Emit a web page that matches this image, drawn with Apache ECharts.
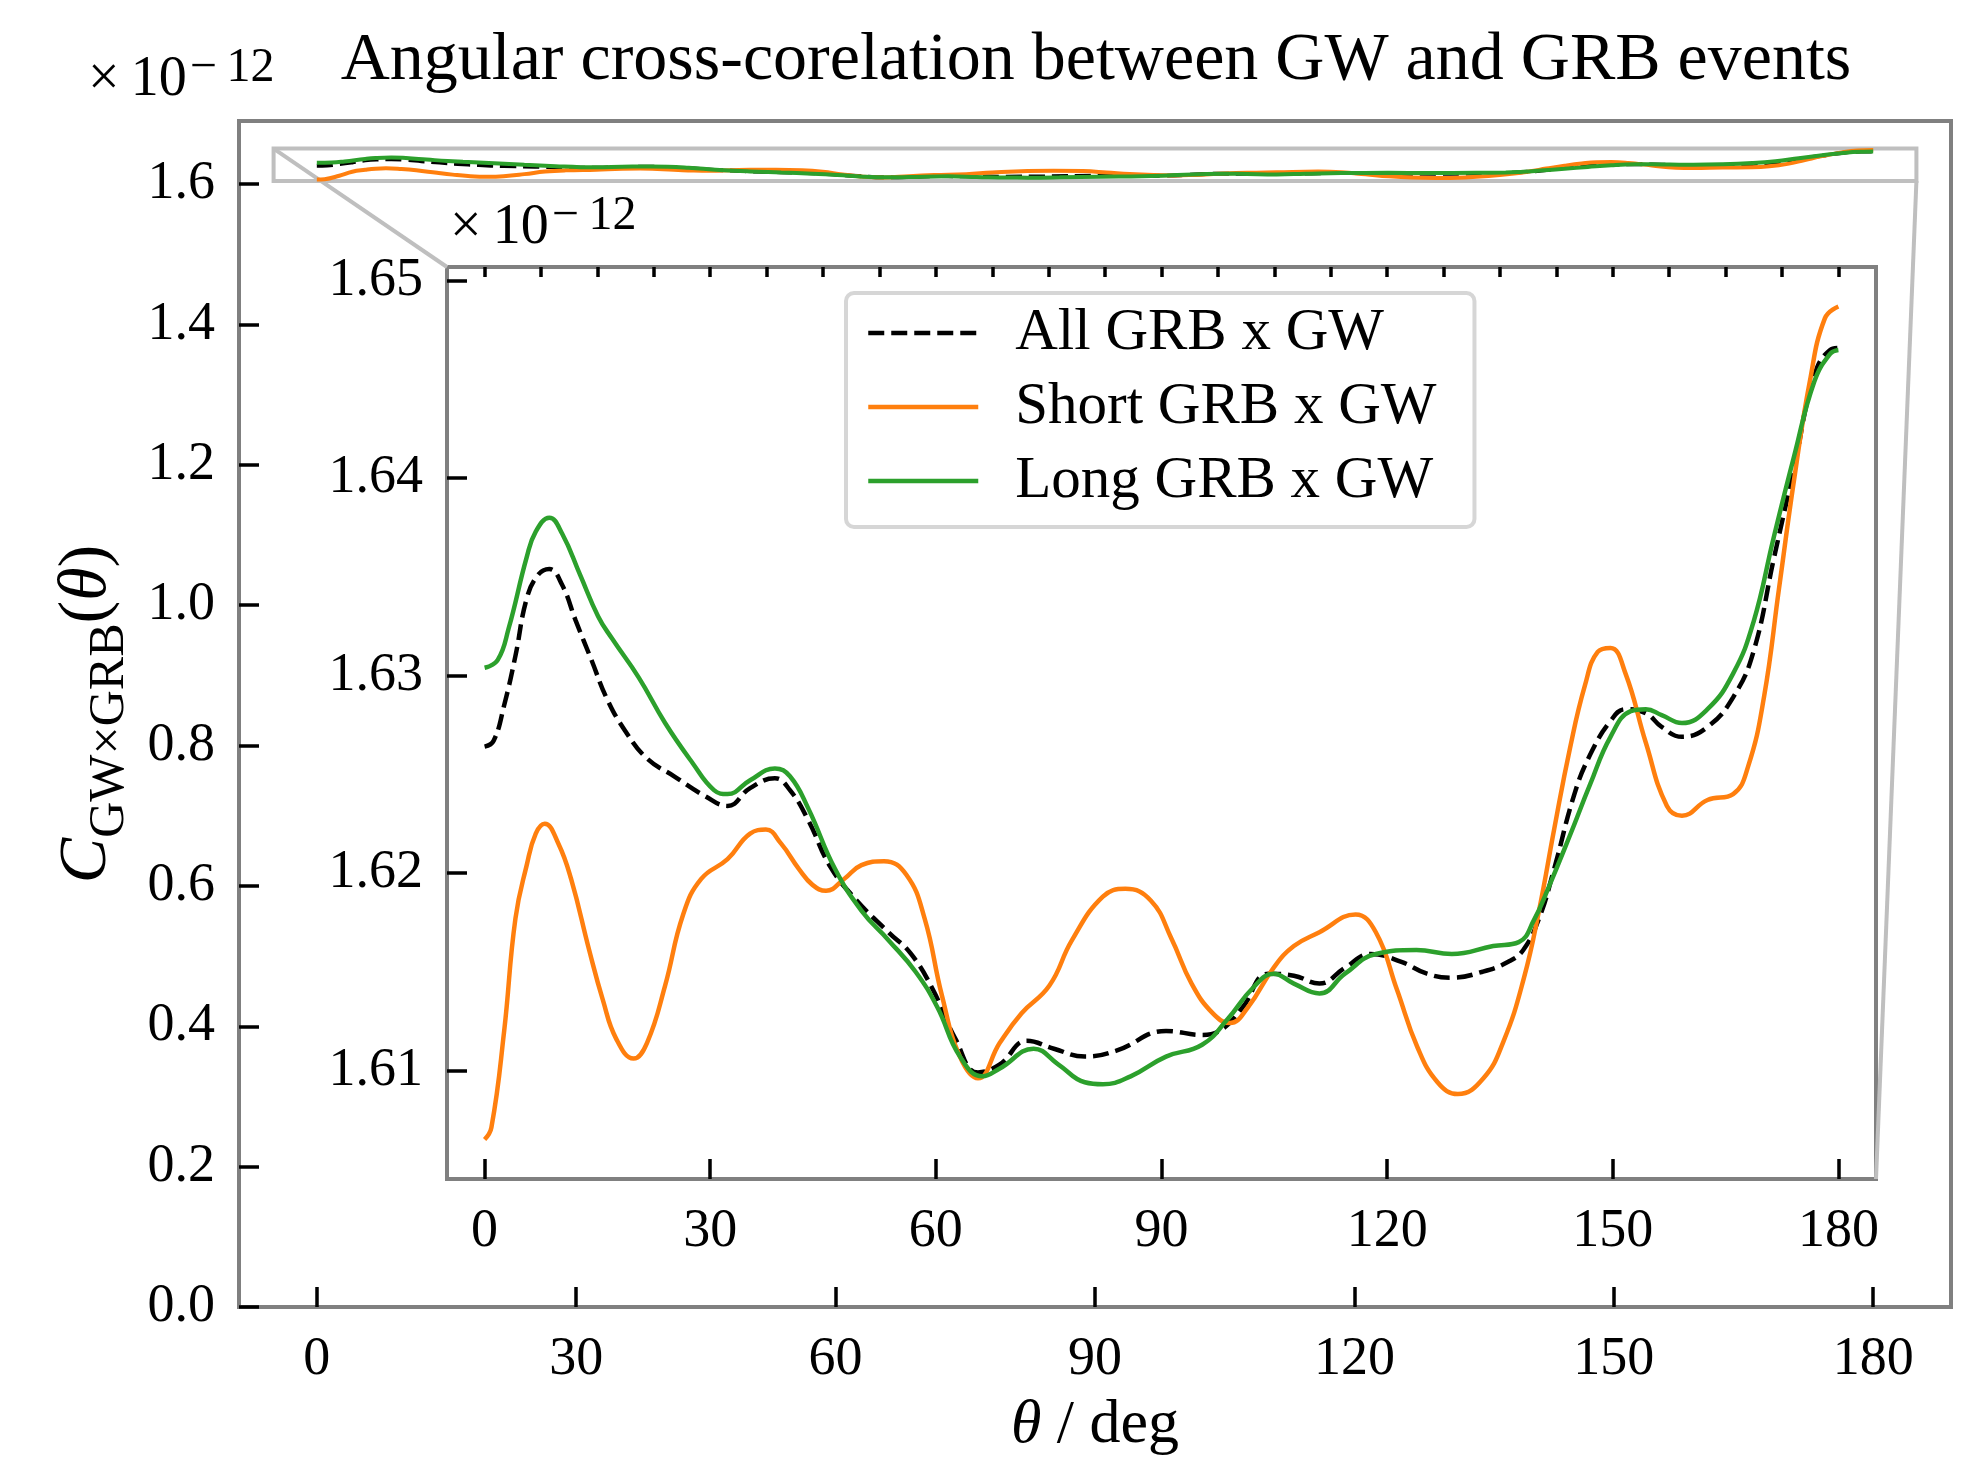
<!DOCTYPE html>
<html>
<head>
<meta charset="utf-8">
<script src="https://cdn.jsdelivr.net/npm/echarts@6/dist/echarts.min.js"></script>
<style>
  html, body { margin: 0; padding: 0; background: #fff; }
  #chart { width: 1965px; height: 1457px; }
</style>
</head>
<body>
<div id="chart"></div>
<script>
// values, in units of 1e-12
const thetaAll = [0, 1.2, 2.6, 4.1, 5.6, 7.1, 8.6, 10.3, 12.1, 14.2, 16.3, 18.7, 21.6, 25.2, 29.3, 32.3, 35.3, 38.6, 40.6, 43, 46, 49.5, 53.7, 56.7, 59.6, 62.6, 65.6, 68.5, 72.1, 75.7, 79.8, 84, 90.6, 95.4, 98.1, 100.8, 104.2, 107.6, 111, 114.4, 117.8, 121.9, 125.3, 128.6, 132.7, 136.1, 138.1, 140.2, 142.2, 144.9, 147, 149.7, 151.7, 154.4, 156.5, 159.2, 162.6, 166, 168.7, 171.4, 174.1, 176.8, 178.9, 180]
const corrAll = [1.6264, 1.6267, 1.6285, 1.6310, 1.6339, 1.6351, 1.6354, 1.6346, 1.6328, 1.6308, 1.6288, 1.6272, 1.6258, 1.6249, 1.6239, 1.6234, 1.6243, 1.6248, 1.6242, 1.6227, 1.6203, 1.6186, 1.6170, 1.6159, 1.6141, 1.6116, 1.6099, 1.6103, 1.6115, 1.6111, 1.6107, 1.6110, 1.6120, 1.6118, 1.6121, 1.6132, 1.6149, 1.6148, 1.6144, 1.6152, 1.6159, 1.6155, 1.6149, 1.6147, 1.6150, 1.6155, 1.6161, 1.6177, 1.6202, 1.6240, 1.6260, 1.6277, 1.6283, 1.6281, 1.6274, 1.6269, 1.6274, 1.6289, 1.6312, 1.6359, 1.6405, 1.6452, 1.6465, 1.6466]

const thetaShort = [0, 0.9, 2.6, 4.1, 5.6, 6.8, 8, 9.8, 11.5, 13.9, 15.7, 17.5, 19.8, 21.6, 24, 26.4, 28.8, 32.3, 35.3, 37.4, 39.4, 41.8, 43.6, 45.4, 47.8, 50.1, 53.1, 56.1, 58.5, 60.8, 63.2, 65.6, 68.5, 71.4, 75.1, 78.1, 82.2, 85.2, 88.6, 91.3, 94, 96.8, 99.1, 101.5, 104.9, 107.6, 111, 115.8, 118.5, 121.3, 124, 126.7, 129.4, 132.8, 135.5, 138.2, 140.2, 142.2, 144.3, 146.3, 148, 149.7, 151.7, 154.4, 157.2, 159.2, 162.6, 166, 168, 170.1, 172.1, 174.1, 176.2, 178.2, 180]
const corrShort = [1.6065, 1.6071, 1.6120, 1.6177, 1.6204, 1.6220, 1.6225, 1.6215, 1.6197, 1.6161, 1.6136, 1.6116, 1.6106, 1.6114, 1.6143, 1.6179, 1.6197, 1.6207, 1.6220, 1.6222, 1.6215, 1.6202, 1.6194, 1.6191, 1.6197, 1.6204, 1.6206, 1.6199, 1.6177, 1.6138, 1.6107, 1.6096, 1.6114, 1.6129, 1.6143, 1.6166, 1.6188, 1.6192, 1.6186, 1.6167, 1.6144, 1.6129, 1.6124, 1.6132, 1.6152, 1.6163, 1.6170, 1.6179, 1.6170, 1.6141, 1.6112, 1.6094, 1.6088, 1.6096, 1.6115, 1.6147, 1.6181, 1.6222, 1.6263, 1.6295, 1.6312, 1.6314, 1.6301, 1.6266, 1.6234, 1.6229, 1.6237, 1.6240, 1.6254, 1.6289, 1.6344, 1.6399, 1.6449, 1.6481, 1.6487]

const thetaLong = [0, 1.75, 3.2, 5.6, 6.8, 8.6, 10.3, 12.7, 15.1, 16.9, 20.5, 24, 27.6, 30.5, 32.3, 35.3, 38.6, 40.6, 43, 46.6, 50.1, 53.7, 57.3, 60.2, 63.2, 66.2, 68.5, 73, 76.3, 79.8, 82.2, 85.9, 90.6, 95.4, 98.8, 102.2, 104.9, 107.6, 111, 114.4, 118.5, 123.9, 128.6, 134.1, 137.5, 139.5, 141.5, 144.3, 147, 149.7, 152.4, 154.4, 156.5, 159.2, 162.6, 166, 168.7, 171.4, 174.1, 176.8, 178.9, 180]
const corrLong = [1.6304, 1.6308, 1.6324, 1.6360, 1.6373, 1.6380, 1.6372, 1.6351, 1.6330, 1.6319, 1.6299, 1.6276, 1.6256, 1.6242, 1.6240, 1.6247, 1.6253, 1.6249, 1.6233, 1.6202, 1.6181, 1.6166, 1.6150, 1.6132, 1.6107, 1.6097, 1.6101, 1.6111, 1.6103, 1.6094, 1.6093, 1.6097, 1.6107, 1.6113, 1.6126, 1.6142, 1.6149, 1.6144, 1.6139, 1.6149, 1.6159, 1.6161, 1.6159, 1.6163, 1.6165, 1.6176, 1.6193, 1.6219, 1.6245, 1.6269, 1.6282, 1.6283, 1.6280, 1.6276, 1.6283, 1.6301, 1.6327, 1.6370, 1.6411, 1.6449, 1.6463, 1.6465]

// ticks
const thetaTicks = [0, 30, 60, 90, 120, 150, 180]
const thetaMinorTicks = [0, 7.5, 15, 22.5, 30, 37.5, 45, 52.5, 60, 67.5, 75, 82.5, 90, 97.5, 105, 112.5, 120, 127.5, 135, 142.5, 150, 157.5, 165, 172.5, 180]
const mainTicks = [0, 0.2, 0.4, 0.6, 0.8, 1.0, 1.2, 1.4, 1.6]
const insetTicks = [1.61, 1.62, 1.63, 1.64, 1.65]

// axis limits
const mainX = [-9, 189]
const mainY = [0, 1.69]
const insetX = [-5, 185]
const insetY = [1.6045, 1.6507]

const FONT = 'Liberation Serif'
const SPINE = '#808080'
const ZOOMBOX = '#bfbfbf'

const lines = [
  { name: 'All GRB x GW', theta: thetaAll, corr: corrAll, color: '#000000', type: [16, 7] },
  { name: 'Short GRB x GW', theta: thetaShort, corr: corrShort, color: '#ff7f0e', type: 'solid' },
  { name: 'Long GRB x GW', theta: thetaLong, corr: corrLong, color: '#2ca02c', type: 'solid' }
]

const chart = echarts.init(document.getElementById('chart'), null, { renderer: 'canvas' })

const tickLabel = { fontFamily: FONT, fontSize: 54, color: '#000' }
const tickStyle = { color: '#000', width: 3.5 }

function xAxisFor(gridIndex, range, extra) {
  return Object.assign({
    type: 'value', gridIndex: gridIndex, min: range[0], max: range[1],
    axisLine: { show: false, onZero: false },
    splitLine: { show: false },
    axisTick: { inside: true, length: 20, lineStyle: tickStyle, customValues: thetaTicks },
    axisLabel: Object.assign({ margin: 26, customValues: thetaTicks }, tickLabel)
  }, extra || {})
}

function yAxisFor(gridIndex, range, ticks, digits, extra) {
  return Object.assign({
    type: 'value', gridIndex: gridIndex, min: range[0], max: range[1],
    axisLine: { show: false, onZero: false },
    splitLine: { show: false },
    axisTick: { inside: true, length: 20, lineStyle: tickStyle, customValues: ticks },
    axisLabel: Object.assign({
      margin: 24, customValues: ticks,
      formatter: function (v) { return v.toFixed(digits) }
    }, tickLabel)
  }, extra || {})
}

const series = []
lines.forEach(function (l, i) {
  const pts = l.theta.map(function (t, k) { return [t, l.corr[k]] })
  const base = {
    type: 'line', name: l.name, data: pts,
    symbol: 'none', showSymbol: false, smooth: 0.45,
    lineStyle: { color: l.color, width: 4.5, type: l.type },
    itemStyle: { color: l.color },
    z: 3 + i
  }
  // full range view
  const full = Object.assign({}, base, { xAxisIndex: 0, yAxisIndex: 0, lineStyle: Object.assign({}, base.lineStyle, { width: 4 }) })
  if (i === 0) {
    // zoom rectangle marking the inset range
    full.markArea = {
      silent: true,
      itemStyle: { color: 'rgba(0,0,0,0)', borderColor: ZOOMBOX, borderWidth: 4 },
      data: [[{ coord: [insetX[0], insetY[1]] }, { coord: [insetX[1], insetY[0]] }]]
    }
  }
  series.push(full)
  // inset
  series.push(Object.assign({}, base, { xAxisIndex: 1, yAxisIndex: 1 }))
})

const option = {
  animation: false,
  backgroundColor: '#fff',
  title: {
    text: 'Angular cross-corelation between GW and GRB events',
    left: 1096, top: 27, textAlign: 'center', padding: 0,
    textStyle: { fontFamily: FONT, fontSize: 68, fontWeight: 'normal', color: '#000' }
  },
  grid: [
    { left: 239, top: 121, width: 1712, height: 1186, show: true, borderColor: SPINE, borderWidth: 4, backgroundColor: '#fff', outerBoundsMode: 'none' },
    { left: 447, top: 267, width: 1429, height: 912, show: true, borderColor: SPINE, borderWidth: 4, backgroundColor: '#fff', outerBoundsMode: 'none' }
  ],
  legend: {
    data: lines.map(function (l) { return l.name }),
    orient: 'vertical', left: 846, top: 293,
    padding: [10, 38, 16, 20], itemGap: 14,
    itemWidth: 110, itemHeight: 20,
    itemStyle: { color: 'rgba(0,0,0,0)', borderColor: 'rgba(0,0,0,0)', borderWidth: 0 },
    lineStyle: { width: 4.5 },
    backgroundColor: '#fff', borderColor: '#d6d6d6', borderWidth: 4, borderRadius: 8,
    textStyle: { fontFamily: FONT, fontSize: 59, color: '#000', lineHeight: 60, padding: [0, 0, 0, 32] }
  },
  xAxis: [
    xAxisFor(0, mainX, {
      name: '{i|θ} / deg', nameLocation: 'middle', nameGap: 88,
      nameTextStyle: { fontFamily: FONT, fontSize: 62, color: '#000', rich: { i: { fontFamily: FONT, fontSize: 62, fontStyle: 'italic' } } }
    }),
    xAxisFor(1, insetX),
    xAxisFor(1, insetX, {
      axisTick: { inside: true, length: 10, lineStyle: tickStyle, customValues: thetaMinorTicks },
      axisLabel: { show: false }
    })
  ],
  yAxis: [
    yAxisFor(0, mainY, mainTicks, 1, {
      name: '{c|C}{s|GW×GRB}{p|(}{t|θ}{p|)}', nameLocation: 'middle', nameGap: 118,
      nameTextStyle: {
        fontFamily: FONT, fontSize: 68, fontWeight: 'normal', color: '#000',
        rich: {
          c: { fontFamily: FONT, fontSize: 68, fontWeight: 'normal', fontStyle: 'italic', lineHeight: 68, verticalAlign: 'top' },
          s: { fontFamily: FONT, fontSize: 50, fontWeight: 'normal', lineHeight: 50, verticalAlign: 'top', padding: [32, 0, 0, 0] },
          p: { fontFamily: FONT, fontSize: 68, fontWeight: 'normal', lineHeight: 68, verticalAlign: 'top' },
          t: { fontFamily: FONT, fontSize: 68, fontWeight: 'normal', fontStyle: 'italic', lineHeight: 68, verticalAlign: 'top' }
        }
      }
    }),
    yAxisFor(1, insetY, insetTicks, 2)
  ],
  series: series
}

chart.setOption(option)

// connectors from the zoom rectangle to the inset corners, and the offset texts
const rectTL = chart.convertToPixel({ xAxisIndex: 0, yAxisIndex: 0 }, [insetX[0], insetY[1]])
const rectBR = chart.convertToPixel({ xAxisIndex: 0, yAxisIndex: 0 }, [insetX[1], insetY[0]])
const insTL = chart.convertToPixel({ xAxisIndex: 1, yAxisIndex: 1 }, [insetX[0], insetY[1]])
const insBR = chart.convertToPixel({ xAxisIndex: 1, yAxisIndex: 1 }, [insetX[1], insetY[0]])

function offsetText(x, y) {
  return {
    type: 'text', x: x, y: y, z: 10,
    style: {
      text: '{a|×\u200910}{b|−\u200912}', fill: '#000', align: 'left', verticalAlign: 'top',
      rich: {
        a: { fontFamily: FONT, fontSize: 56, lineHeight: 56, verticalAlign: 'top', padding: [8, 3, 0, 0] },
        b: { fontFamily: FONT, fontSize: 48, lineHeight: 48, verticalAlign: 'top' }
      }
    }
  }
}

chart.setOption({
  graphic: [
    { type: 'line', z: 1, silent: true, shape: { x1: rectTL[0], y1: rectTL[1], x2: insTL[0], y2: insTL[1] }, style: { stroke: ZOOMBOX, lineWidth: 4 } },
    { type: 'line', z: 1, silent: true, shape: { x1: rectBR[0], y1: rectBR[1], x2: insBR[0], y2: insBR[1] }, style: { stroke: ZOOMBOX, lineWidth: 4 } },
    offsetText(88, 44),
    offsetText(450, 192)
  ]
})
</script>
</body>
</html>
